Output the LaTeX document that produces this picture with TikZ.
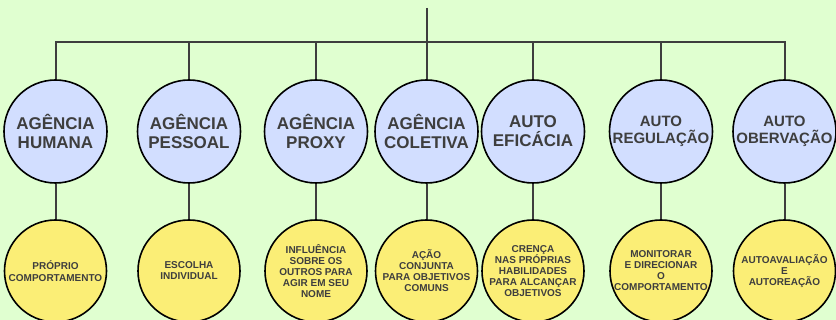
\documentclass[tikz,border=0pt]{standalone}
\usepackage{fontspec}
\setmainfont{Liberation Sans}[BoldFont={Liberation Sans Bold}]
\usepackage{tikz}
\usetikzlibrary{positioning}

\definecolor{bgreen}{RGB}{224,255,208}
\definecolor{cblue}{RGB}{210,222,255}
\definecolor{cyellow}{RGB}{251,238,118}
\definecolor{ink}{RGB}{62,62,62}

\tikzset{
  concept/.style={circle, draw=black, line width=1.6pt, fill=cblue, minimum size=103pt,
    inner sep=0pt, align=center, text=ink, font=\fontsize{17}{19}\selectfont\bfseries},
  smallconcept/.style={concept, font=\fontsize{15}{17.5}\selectfont\bfseries},
  meaning/.style={circle, draw=black, line width=1.6pt, fill=cyellow, minimum size=102pt,
    inner sep=0pt, align=center, text=ink, font=\fontsize{10}{11}\selectfont\bfseries},
  link/.style={draw=ink, line width=2pt}
}

\begin{document}
\begin{tikzpicture}[x=1pt, y=-1pt, node distance=139.5pt]
			\fill[bgreen] (0,0) rectangle (836,320);
			\useasboundingbox (0,0) rectangle (836,320);

			\node[concept] (hum) at (55.5,131.5) {AGÊNCIA\\HUMANA};
			\node[concept] (pes) at (189,131.5) {AGÊNCIA\\PESSOAL};
			\node[concept] (pro) at (316,131.5) {AGÊNCIA\\PROXY};
			\node[concept] (col) at (426.5,131.5) {AGÊNCIA\\COLETIVA};
			\node[concept] (efi) at (533,131.5) {AUTO\\EFICÁCIA};
			\node[smallconcept] (reg) at (661,131.5) {AUTO\\REGULAÇÃO};
			\node[smallconcept] (obs) at (784.5,131.5) {AUTO\\OBERVAÇÃO};

			\node[meaning] (hum2) [below of=hum] {PRÓPRIO\\[1.5pt]COMPORTAMENTO};
			\node[meaning] (pes2) [below of=pes] {ESCOLHA\\INDIVIDUAL};
			\node[meaning] (pro2) [below of=pro] {INFLUÊNCIA\\SOBRE OS\\OUTROS PARA\\AGIR EM SEU\\NOME};
			\node[meaning] (col2) [below of=col] {AÇÃO\\CONJUNTA\\PARA OBJETIVOS\\COMUNS};
			\node[meaning] (efi2) [below of=efi] {CRENÇA\\NAS PRÓPRIAS\\HABILIDADES\\PARA ALCANÇAR\\OBJETIVOS};
			\node[meaning] (reg2) [below of=reg] {MONITORAR\\E DIRECIONAR\\O\\COMPORTAMENTO};
			\node[meaning] (obs2) [below of=obs] {AUTOAVALIAÇÃO\\E\\AUTOREAÇÃO};

			\coordinate (root) at (426.5,8);
			\coordinate (bar) at (426.5,42);

			% trunk and bar
			\draw[link] (root) -- (col.north);
			\draw[link] (hum.north) |- (bar) -| (obs.north);
			\foreach \n in {pes,pro,efi,reg}
				\draw[link] (bar -| \n.north) -- (\n.north);

			% concept to meaning
			\foreach \n in {hum,pes,pro,col,efi,reg,obs}
				\draw[link] (\n.south) -- (\n2.north);
		\end{tikzpicture}
\end{document}
